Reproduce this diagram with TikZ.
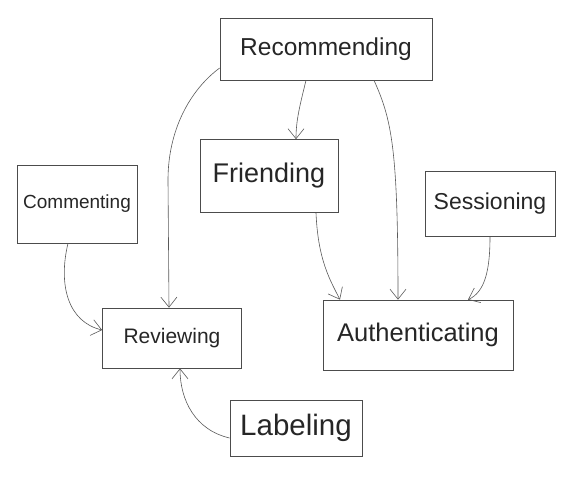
\documentclass[tikz,border=0pt]{standalone}
\usepackage{fontspec}
\setmainfont{Liberation Sans}
\usetikzlibrary{arrows.meta,calc}
\tikzset{
  box/.style={draw=black!70, line width=0.7pt, inner sep=0pt, text=black!85},
  link/.style={draw=black!65, line width=0.6pt, -{Straight Barb[length=10pt,width=16pt]}},
}
\newcommand{\fs}[1]{\fontsize{#1}{#1}\selectfont}
\begin{document}
\begin{tikzpicture}[x=1pt,y=-1pt]
\useasboundingbox (0,0) rectangle (566,477);
\node[box, minimum width=212, minimum height=62] (rec) at (326,49) {\fs{24.5}Recommending};
\node[box, minimum width=138, minimum height=73] (fri) at (269,176) {\fs{27}Friending};
\node[box, minimum width=120, minimum height=78] (com) at (77,204) {\fs{19}Commenting};
\node[box, minimum width=130, minimum height=65] (ses) at (490,204) {\fs{23}Sessioning};
\node[box, minimum width=139, minimum height=60] (rev) at (172,338) {\fs{21}Reviewing};
\node[box, minimum width=190, minimum height=70] (aut) at (418,335) {\fs{25.5}Authenticating};
\node[box, minimum width=132, minimum height=56] (lab) at (296,428) {\fs{29.5}Labeling};

\draw[link] ($(rec.south)+(-20,0)$) .. controls (300,105) and (296,120) .. ($(fri.north)+(27,0)$);
\draw[link] ($(rec.west)+(0,19)$) .. controls (190,90) and (168,130) .. (168,180) -- ($(rev.north)+(-3,0)$);
\draw[link] ($(rec.south)+(48,0)$) .. controls (392,120) and (398,150) .. ($(aut.north)+(-20,0)$);
\draw[link] ($(fri.south)+(47,0)$) .. controls (318,260) and (330,280) .. ($(aut.north)+(-78,0)$);
\draw[link] ($(com.south)+(-9,0)$) .. controls (58,285) and (68,322) .. ($(rev.west)+(0,-8)$);
\draw[link] (ses.south) .. controls (490,270) and (485,292) .. ($(aut.north)+(50,0)$);
\draw[link] ($(lab.west)+(0,10)$) .. controls (195,430) and (180,400) .. ($(rev.south)+(8,0)$);
\end{tikzpicture}
\end{document}
